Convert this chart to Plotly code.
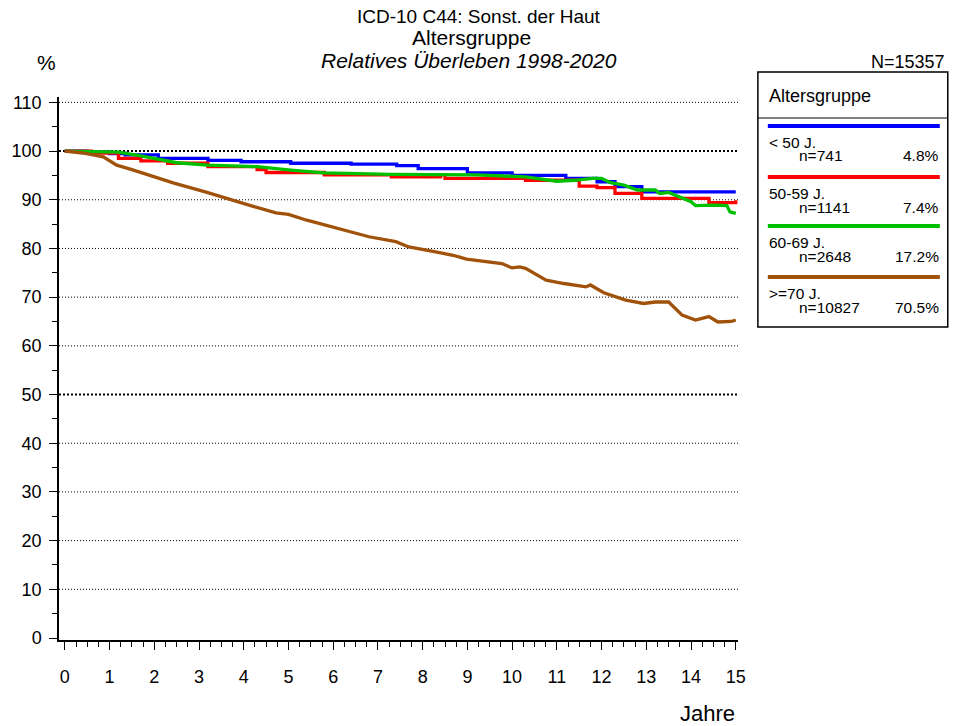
import plotly.graph_objects as go

# ---- data ----
groups = ["< 50 J.", "50-59 J.", "60-69 J.", ">=70 J."]
counts = ["n=741", "n=1141", "n=2648", "n=10827"]
shares = ["4.8%", "7.4%", "17.2%", "70.5%"]
colors = ["#0000FF", "#FF0000", "#00C000", "#A0520A"]

t_lt50 = [0, 0.5, 1.0, 1.35, 2.09, 3.2, 3.94, 5.05, 6.4, 7.42, 7.9, 9.0, 10.0, 11.2, 11.9, 12.3, 12.9, 15.0]
v_lt50 = [100, 99.8, 99.5, 99.2, 98.5, 98.1, 97.8, 97.5, 97.3, 97.0, 96.4, 95.5, 95.0, 94.4, 93.7, 92.7, 91.6, 91.6]

t_50_59 = [0, 0.6, 1.2, 1.7, 2.3, 3.2, 4.3, 4.5, 5.8, 7.3, 8.4, 8.5, 10.3, 11.4, 11.5, 11.9, 12.3, 12.6, 12.9, 14.3, 14.4, 15.0]
v_50_59 = [100, 99.6, 98.5, 98.0, 97.5, 96.8, 96.2, 95.6, 95.1, 94.7, 95.1, 94.4, 94.0, 94.0, 92.8, 92.5, 91.3, 91.3, 90.3, 90.3, 89.4, 89.9]

t_60_69 = [0, 0.6, 1.2, 1.7, 2.3, 2.5, 3.2, 4.3, 5.05, 5.8, 7.3, 8.0, 9.2, 10.3, 10.7, 11.0, 11.4, 11.8, 12.0, 12.2, 12.5, 12.8, 13.2, 13.3, 13.5, 13.75, 14.0, 14.1, 14.5, 14.8, 14.87, 15.0]
v_60_69 = [100, 99.9, 99.8, 99.0, 98.0, 97.6, 97.1, 96.8, 96.1, 95.5, 95.2, 95.2, 95.1, 94.7, 94.2, 93.8, 94.0, 94.4, 94.4, 93.5, 93.0, 92.0, 92.0, 91.3, 91.5, 90.6, 89.6, 88.8, 88.9, 88.8, 87.5, 87.2]

t_ge70 = [0, 0.4, 0.86, 1.16, 1.5, 1.85, 2.44, 3.14, 3.83, 4.23, 4.72, 5.0, 5.41, 5.81, 6.21, 6.8, 7.4, 7.69, 8.29, 8.68, 8.98, 9.77, 10.0, 10.17, 10.3, 10.76, 11.16, 11.5, 11.65, 11.75, 12.05, 12.54, 12.94, 13.2, 13.5, 13.8, 14.1, 14.4, 14.6, 14.9, 15.0]
v_ge70 = [100, 99.6, 98.8, 97.1, 96.2, 95.1, 93.4, 91.6, 89.6, 88.6, 87.3, 87.0, 85.8, 84.8, 83.8, 82.4, 81.4, 80.3, 79.3, 78.6, 77.8, 76.9, 76.0, 76.2, 75.9, 73.5, 72.8, 72.3, 72.1, 72.5, 70.9, 69.4, 68.7, 69.0, 69.0, 66.3, 65.3, 66.0, 64.9, 65.0, 65.3]

series_t = [t_lt50, t_50_59, t_60_69, t_ge70]
series_v = [v_lt50, v_50_59, v_60_69, v_ge70]
shapes_mode = ["hv", "hv", "linear", "linear"]

x_ticks = list(range(0, 16))
y_ticks = list(range(0, 111, 10))

W, H = 953, 726
ML, MR, MT, MB = 55, 215, 97, 86
PW, PH = W - ML - MR, H - MT - MB
FONT = "Arial, Liberation Sans, sans-serif"


def px(x):
    return (x - ML) / PW


def py(y):
    return (H - MB - y) / PH


fig = go.Figure()
for i in range(4):
    fig.add_trace(go.Scatter(x=series_t[i], y=series_v[i], mode="lines",
                             line=dict(color=colors[i], width=3.3, shape=shapes_mode[i]),
                             name=groups[i], showlegend=False))

shapes = []
for yv in y_ticks[1:]:
    bold = yv in (50, 100)
    shapes.append(dict(type="line", xref="x", yref="y", x0=-0.13, x1=15.05, y0=yv, y1=yv,
                       line=dict(color="black", width=2 if bold else 1,
                                 dash="2px,2px" if bold else "1px,2px"),
                       layer="below"))

# legend box
shapes.append(dict(type="rect", xref="paper", yref="paper", x0=px(758), x1=px(949),
                   y0=py(327), y1=py(72), line=dict(color="black", width=1.5)))
shapes.append(dict(type="line", xref="paper", yref="paper", x0=px(758), x1=px(949),
                   y0=py(118), y1=py(118), line=dict(color="black", width=1)))
line_y = [126, 177, 226, 277]
for i in range(4):
    shapes.append(dict(type="line", xref="paper", yref="paper", x0=px(768), x1=px(941),
                       y0=py(line_y[i]), y1=py(line_y[i]), line=dict(color=colors[i], width=4)))

ann = []
ann.append(dict(text="ICD-10 C44: Sonst. der Haut", x=px(477), y=py(17), font=dict(size=19)))
ann.append(dict(text="Altersgruppe", x=px(470), y=py(38), font=dict(size=21)))
ann.append(dict(text="<i>Relatives Überleben 1998-2020</i>", x=px(467), y=py(61), font=dict(size=21)))
ann.append(dict(text="%", x=px(42), y=py(62), font=dict(size=21)))
ann.append(dict(text="N=15357", x=px(948), y=py(62), xanchor="right", font=dict(size=18)))
ann.append(dict(text="Jahre", x=px(737), y=py(713), xanchor="right", font=dict(size=22)))
ann.append(dict(text="Altersgruppe", x=px(767), y=py(96), xanchor="left", font=dict(size=18)))
for i in range(4):
    ly = line_y[i]
    ann.append(dict(text=groups[i], x=px(767), y=py(ly + 16), xanchor="left", font=dict(size=15.5)))
    ann.append(dict(text=counts[i], x=px(797), y=py(ly + 30), xanchor="left", font=dict(size=15.5)))
    ann.append(dict(text=shares[i], x=px(942), y=py(ly + 30), xanchor="right", font=dict(size=15.5)))
for a in ann:
    a.update(xref="paper", yref="paper", showarrow=False, yanchor="middle")
    a.setdefault("xanchor", "center")
    a["font"].update(family=FONT, color="black")

fig.update_layout(
    width=W, height=H, margin=dict(l=ML, r=MR, t=MT, b=MB),
    paper_bgcolor="white", plot_bgcolor="white",
    font=dict(family=FONT, color="black"),
    shapes=shapes, annotations=ann, showlegend=False,
    xaxis=dict(range=[-0.13, 15.05], tickvals=x_ticks, ticks="outside", ticklen=8,
               tickcolor="black", tickwidth=1, showline=True, linecolor="black", linewidth=1.5,
               showgrid=False, zeroline=False, tickfont=dict(size=18), ticklabelstandoff=12,
               minor=dict(dtick=0.25, ticks="outside", ticklen=5, tickcolor="black", showgrid=False)),
    yaxis=dict(range=[-0.41, 111.1], tickvals=y_ticks, ticks="outside", ticklen=8,
               tickcolor="black", tickwidth=1, showline=True, linecolor="black", linewidth=1.5,
               showgrid=False, zeroline=False, tickfont=dict(size=18), ticklabelstandoff=4,
               minor=dict(dtick=5, ticks="outside", ticklen=5, tickcolor="black", showgrid=False)),
)

fig.write_html("out.html", config={"displayModeBar": False},
               post_script="document.body.style.margin='0';")
